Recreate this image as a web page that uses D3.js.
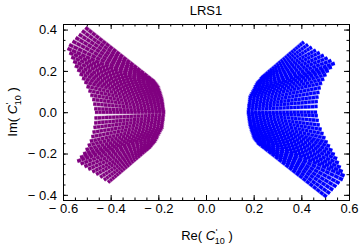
<!DOCTYPE html>
<html>
<head>
<meta charset="utf-8">
<script src="https://cdnjs.cloudflare.com/ajax/libs/d3/7.8.5/d3.min.js"></script>
<style>
  body { margin: 0; background: #fff; }
  svg { display: block; font-family: "Liberation Sans", Arial, sans-serif; }
</style>
</head>
<body>
<svg id="chart" width="360" height="248"></svg>
<script>
var title = "LRS1";
var xTicks = [-0.6, -0.4, -0.2, 0, 0.2, 0.4, 0.6];
var yTicks = [-0.4, -0.2, 0, 0.2, 0.4];

// each scan strand runs from (x0,y0) on the inner edge to (x1,y1) on the outer edge
var purpleX0 = [-0.506,-0.520,-0.533,-0.547,-0.560,-0.574,-0.581,-0.573,-0.565,-0.557,-0.550,-0.540,-0.530,-0.520,-0.510,-0.501,-0.493,-0.485,-0.477,-0.473,-0.469,-0.466,-0.468,-0.469,-0.472,-0.476,-0.481,-0.487,-0.496,-0.505,-0.515,-0.528,-0.540,-0.526,-0.510,-0.494,-0.477,-0.461,-0.444,-0.428,-0.411];
var purpleY0 = [0.410,0.394,0.377,0.361,0.344,0.327,0.309,0.288,0.267,0.246,0.225,0.205,0.185,0.165,0.146,0.125,0.104,0.083,0.062,0.040,0.017,0.000,-0.028,-0.052,-0.074,-0.097,-0.119,-0.141,-0.161,-0.182,-0.202,-0.219,-0.237,-0.250,-0.263,-0.276,-0.289,-0.301,-0.315,-0.328,-0.340];
var purpleX1 = [-0.216,-0.212,-0.207,-0.203,-0.199,-0.195,-0.193,-0.191,-0.188,-0.186,-0.184,-0.182,-0.180,-0.178,-0.177,-0.176,-0.175,-0.174,-0.173,-0.172,-0.171,-0.170,-0.171,-0.173,-0.173,-0.175,-0.176,-0.177,-0.178,-0.182,-0.186,-0.190,-0.194,-0.198,-0.201,-0.206,-0.210,-0.216,-0.222,-0.227,-0.233];
var purpleY1 = [0.147,0.141,0.134,0.129,0.123,0.117,0.109,0.102,0.094,0.087,0.080,0.072,0.065,0.057,0.050,0.042,0.035,0.027,0.019,0.011,0.004,0.000,-0.013,-0.023,-0.032,-0.041,-0.051,-0.061,-0.071,-0.079,-0.087,-0.096,-0.104,-0.113,-0.121,-0.130,-0.138,-0.145,-0.151,-0.159,-0.166];

var blueX0 = [0.506,0.520,0.533,0.547,0.560,0.574,0.581,0.573,0.565,0.557,0.550,0.540,0.530,0.520,0.510,0.501,0.493,0.485,0.477,0.473,0.469,0.466,0.468,0.469,0.472,0.476,0.481,0.487,0.496,0.505,0.515,0.528,0.540,0.526,0.510,0.494,0.477,0.461,0.444,0.428,0.411];
var blueY0 = [-0.410,-0.394,-0.377,-0.361,-0.344,-0.327,-0.309,-0.288,-0.267,-0.246,-0.225,-0.205,-0.185,-0.165,-0.146,-0.125,-0.104,-0.083,-0.062,-0.040,-0.017,0.000,0.028,0.052,0.074,0.097,0.119,0.141,0.161,0.182,0.202,0.219,0.237,0.250,0.263,0.276,0.289,0.301,0.315,0.328,0.340];
var blueX1 = [0.216,0.212,0.207,0.203,0.199,0.195,0.193,0.191,0.188,0.186,0.184,0.182,0.180,0.178,0.177,0.176,0.175,0.174,0.173,0.172,0.171,0.170,0.171,0.173,0.173,0.175,0.176,0.177,0.178,0.182,0.186,0.190,0.194,0.198,0.201,0.206,0.210,0.216,0.222,0.227,0.233];
var blueY1 = [-0.147,-0.141,-0.134,-0.129,-0.123,-0.117,-0.109,-0.102,-0.094,-0.087,-0.080,-0.072,-0.065,-0.057,-0.050,-0.042,-0.035,-0.027,-0.019,-0.011,-0.004,0.000,0.013,0.023,0.032,0.041,0.051,0.061,0.071,0.079,0.087,0.096,0.104,0.113,0.121,0.130,0.138,0.145,0.151,0.159,0.166];

var frameL = 63, frameR = 349, frameT = 24, frameB = 200;

var svg = d3.select("#chart");

var x = d3.scaleLinear().domain([-0.6, 0.6]).range([frameL, frameR]);
var y = d3.scaleLinear().domain([-0.425, 0.427]).range([frameB, frameT]);

var fmt = function (d) {
  var s = Math.abs(d).toFixed(1);
  return d < 0 ? "\u2212 " + s : s;
};

function strands(x0, y0, x1, y1) {
  return x0.map(function (d, i) {
    return [[x0[i], y0[i]], [x1[i], y1[i]]];
  });
}

var line = d3.line()
  .x(function (d) { return x(d[0]); })
  .y(function (d) { return y(d[1]); });

var plot = svg.append("g");

function drawSet(data, color, halo) {
  var g = plot.append("g");
  g.selectAll("path.halo")
    .data(data)
    .enter().append("path")
    .attr("class", "halo")
    .attr("d", line)
    .attr("fill", "none")
    .attr("stroke", halo)
    .attr("stroke-width", 4.2);
  g.selectAll("path.dots")
    .data(data)
    .enter().append("path")
    .attr("class", "dots")
    .attr("d", line)
    .attr("fill", "none")
    .attr("stroke", color)
    .attr("stroke-width", 3.1)
    .attr("pathLength", 20)
    .attr("stroke-dasharray", "0.86 0.14");
}

drawSet(strands(purpleX0, purpleY0, purpleX1, purpleY1), "#800080", "#c48cc4");
drawSet(strands(blueX0, blueY0, blueX1, blueY1), "#0000ff", "#9090ff");

// frame with ticks pointing inwards on all four sides
var xMinor = d3.range(-0.6, 0.601, 0.05);
var yMinor = d3.range(-0.4, 0.401, 0.05);

function ticks(axis, tr) {
  var g = svg.append("g").attr("transform", tr).call(axis);
  g.select(".domain").remove();
  g.selectAll("text").attr("font-size", "13px").attr("fill", "#000").attr("font-family", null);
  return g;
}

ticks(d3.axisBottom(x).tickValues(xTicks).tickSizeInner(-5).tickSizeOuter(0).tickPadding(4).tickFormat(fmt), "translate(0," + frameB + ")");
ticks(d3.axisBottom(x).tickValues(xMinor).tickSizeInner(-2.5).tickSizeOuter(0).tickFormat(""), "translate(0," + frameB + ")");
ticks(d3.axisTop(x).tickValues(xTicks).tickSizeInner(-5).tickSizeOuter(0).tickFormat(""), "translate(0," + frameT + ")");
ticks(d3.axisTop(x).tickValues(xMinor).tickSizeInner(-2.5).tickSizeOuter(0).tickFormat(""), "translate(0," + frameT + ")");
ticks(d3.axisLeft(y).tickValues(yTicks).tickSizeInner(-5).tickSizeOuter(0).tickPadding(6).tickFormat(fmt), "translate(" + frameL + ",0)");
ticks(d3.axisLeft(y).tickValues(yMinor).tickSizeInner(-2.5).tickSizeOuter(0).tickFormat(""), "translate(" + frameL + ",0)");
ticks(d3.axisRight(y).tickValues(yTicks).tickSizeInner(-5).tickSizeOuter(0).tickFormat(""), "translate(" + frameR + ",0)");
ticks(d3.axisRight(y).tickValues(yMinor).tickSizeInner(-2.5).tickSizeOuter(0).tickFormat(""), "translate(" + frameR + ",0)");

svg.append("rect")
  .attr("x", frameL + 0.5).attr("y", frameT + 0.5)
  .attr("width", frameR - frameL).attr("height", frameB - frameT)
  .attr("fill", "none").attr("stroke", "#000").attr("stroke-width", 1);

svg.append("text")
  .attr("x", 206).attr("y", 15)
  .attr("text-anchor", "middle")
  .attr("font-size", "13px")
  .text(title);

function coefLabel(t, name) {
  t.append("tspan").text(name + "( ");
  t.append("tspan").attr("font-style", "italic").text("C");
  t.append("tspan").attr("font-size", "9px").attr("dx", 0.5).attr("dy", -5).text("'");
  t.append("tspan").attr("font-size", "9px").attr("dx", -2.5).attr("dy", 9).text("10");
  t.append("tspan").attr("dy", -4).text(" )");
}

coefLabel(svg.append("text")
  .attr("x", 207).attr("y", 240)
  .attr("text-anchor", "middle")
  .attr("font-size", "13px"), "Re");

coefLabel(svg.append("text")
  .attr("transform", "translate(17,112) rotate(-90)")
  .attr("text-anchor", "middle")
  .attr("font-size", "13px"), "Im");
</script>
</body>
</html>
